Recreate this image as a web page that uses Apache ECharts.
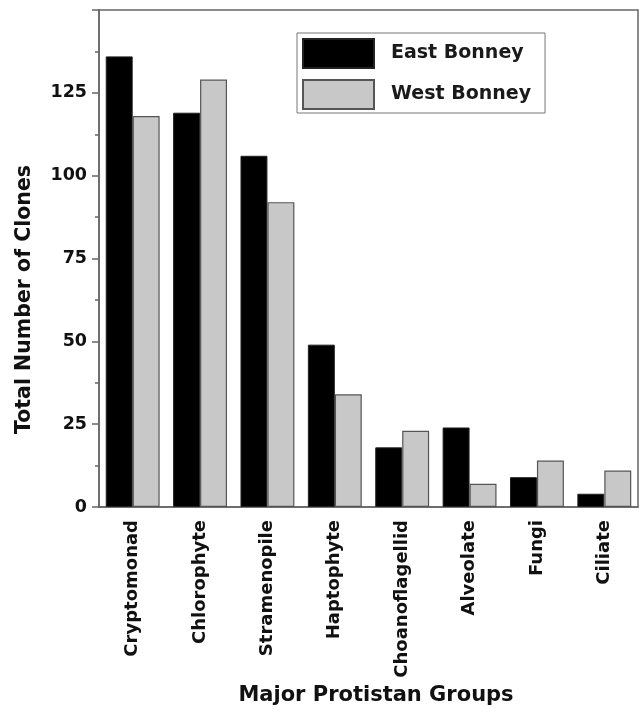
<!DOCTYPE html>
<html>
<head>
<meta charset="utf-8">
<script src="https://cdn.jsdelivr.net/npm/echarts@6/dist/echarts.min.js"></script>
<style>
html,body{margin:0;padding:0;background:#fff;}
#chart{width:643px;height:709px;}
</style>
</head>
<body>
<div id="chart"></div>
<script>
var categories = ['Cryptomonad','Chlorophyte','Stramenopile','Haptophyte','Choanoflagellid','Alveolate','Fungi','Ciliate'];
var eastBonney = [136, 119, 106, 49, 18, 24, 9, 4];
var westBonney = [118, 129, 92, 34, 23, 7, 14, 11];
var seriesNames = ['East Bonney', 'West Bonney'];
var yTicks = [0, 25, 50, 75, 100, 125];

var FONT = 'DejaVu Sans';
var chart = echarts.init(document.getElementById('chart'));
chart.setOption({
  backgroundColor: '#fff',
  animation: false,
  grid: {
    left: 99, right: 5, top: 10, bottom: 202,
    outerBoundsMode: 'none',
    containLabel: false,
    show: true, borderColor: '#666', borderWidth: 1.5, backgroundColor: 'transparent'
  },
  legend: {
    orient: 'vertical',
    left: 297, top: 33,
    data: seriesNames,
    itemWidth: 71, itemHeight: 29, itemGap: 10,
    padding: [5, 14, 3, 5],
    borderColor: '#777', borderWidth: 1,
    icon: 'rect',
    textStyle: { fontFamily: FONT, fontWeight: 'bold', fontSize: 19, color: '#1a1a1a', padding: [0, 0, 0, 12] }
  },
  xAxis: {
    type: 'category',
    data: categories,
    axisLine: { lineStyle: { color: '#666', width: 1.5 } },
    axisTick: { show: false },
    axisLabel: { rotate: 90, margin: 13, fontFamily: FONT, fontWeight: 'bold', fontSize: 18, color: '#111' },
    name: 'Major Protistan Groups',
    nameLocation: 'middle',
    nameGap: 178,
    nameMoveOverlap: false,
    nameTextStyle: { fontFamily: FONT, fontWeight: 'bold', fontSize: 21, color: '#111', padding: [0, 0, 0, 15] }
  },
  yAxis: {
    type: 'value',
    min: 0, max: 150, interval: 25,
    splitLine: { show: false },
    axisLine: { show: true, lineStyle: { color: '#666', width: 1.5 } },
    axisTick: { show: true, inside: false, length: 7, lineStyle: { color: '#666', width: 1.5 } },
    minorTick: { show: true, splitNumber: 2, length: 4, lineStyle: { color: '#666', width: 1.5 } },
    axisLabel: {
      margin: 12, fontFamily: FONT, fontWeight: 'bold', fontSize: 17.5, color: '#111',
      formatter: function (v) { return yTicks.indexOf(v) >= 0 ? String(v) : ''; }
    },
    name: 'Total Number of Clones',
    nameLocation: 'middle',
    nameGap: 64,
    nameMoveOverlap: false,
    nameTextStyle: { fontFamily: FONT, fontWeight: 'bold', fontSize: 20.5, color: '#111', padding: [0, 82, 0, 0] }
  },
  series: [
    {
      name: seriesNames[0], type: 'bar', data: eastBonney,
      barGap: '0%', barCategoryGap: '20%',
      itemStyle: { color: '#000', borderColor: '#222', borderWidth: 1 }
    },
    {
      name: seriesNames[1], type: 'bar', data: westBonney,
      barGap: '0%', barCategoryGap: '20%',
      itemStyle: { color: '#c8c8c8', borderColor: '#555', borderWidth: 1.2 }
    }
  ]
});
</script>
</body>
</html>
